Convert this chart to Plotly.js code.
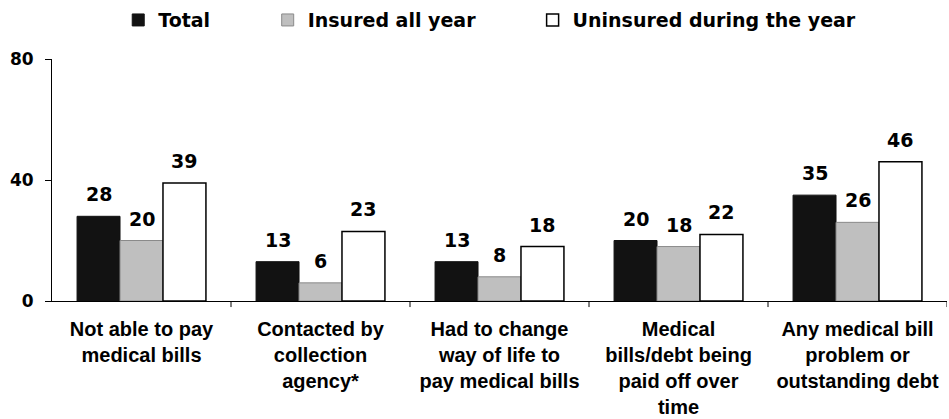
<!DOCTYPE html>
<html>
<head>
<meta charset="utf-8">
<script src="https://cdn.plot.ly/plotly-3.0.1.min.js"></script>
<style>html,body{margin:0;padding:0;background:#fff;}#chart{width:949px;height:419px;}</style>
</head>
<body>
<div id="chart"></div>
<script>
const categories = [
  "Not able to pay<br>medical bills",
  "Contacted by<br>collection<br>agency*",
  "Had to change<br>way of life to<br>pay medical bills",
  "Medical<br>bills/debt being<br>paid off over<br>time",
  "Any medical bill<br>problem or<br>outstanding debt"
];
const seriesNames = ["Total", "Insured all year", "Uninsured during the year"];
const totalValues = [28, 13, 13, 20, 35];
const insuredValues = [20, 6, 8, 18, 26];
const uninsuredValues = [39, 23, 18, 22, 46];
const yTicks = [0, 40, 80];

const allValues = [totalValues, insuredValues, uninsuredValues];
const fills = ["#121212", "#bfbfbf", "#ffffff"];
const lines = ["#121212", "#8a8a8a", "#000000"];
const lineWidths = [1, 1, 1.5];
const legendIds = ["legend", "legend2", "legend3"];

const idx = categories.map((c, i) => i);
const traces = allValues.map((vals, s) => ({
  type: "bar",
  name: seriesNames[s],
  x: idx,
  y: vals,
  marker: {color: fills[s], line: {color: lines[s], width: lineWidths[s]}},
  legend: legendIds[s],
  hoverinfo: "none"
}));

const barW = 0.72 / 3;
const annotations = [];
allValues.forEach((vals, s) => {
  vals.forEach((v, i) => {
    annotations.push({
      x: i + (s - 1) * barW, y: v, xref: "x", yref: "y",
      text: String(v), showarrow: false, yanchor: "bottom", yshift: 9,
      font: {family: "DejaVu Sans", size: 19, color: "#000", weight: "bold"}
    });
  });
});

const legendFont = {family: "DejaVu Sans", size: 19, color: "#000", weight: "bold"};
const mkLegend = (x) => ({x: x, y: 1.156, xanchor: "left", yanchor: "middle", orientation: "h",
  font: legendFont, bgcolor: "rgba(0,0,0,0)", borderwidth: 0});

const layout = {
  width: 949, height: 419,
  margin: {l: 52, r: 2, t: 58, b: 118},
  paper_bgcolor: "#fff", plot_bgcolor: "#fff",
  barmode: "group", bargap: 0.28, bargroupgap: 0,
  showlegend: true,
  legend: mkLegend(0.074),
  legend2: mkLegend(0.241),
  legend3: mkLegend(0.537),
  xaxis: {
    type: "linear", range: [-0.5, 4.5],
    tickvals: idx, ticktext: categories,
    showline: true, linecolor: "#000", linewidth: 1,
    showgrid: false, zeroline: false, ticks: "",
    ticklabelstandoff: 10,
    tickfont: {family: "Liberation Sans", size: 20, color: "#000", weight: "bold"}
  },
  yaxis: {
    range: [0, 80], tickvals: yTicks, ticktext: yTicks.map(String),
    showline: true, linecolor: "#000", linewidth: 1,
    showgrid: false, zeroline: false,
    ticks: "outside", ticklen: 6, tickcolor: "#000",
    ticklabelstandoff: 8,
    tickfont: {family: "DejaVu Sans", size: 17, color: "#000", weight: "bold"}
  },
  annotations: annotations,
  shapes: idx.slice(1).concat([5]).map(i => ({
    type: "line", xref: "x", yref: "paper", x0: i - 0.5, x1: i - 0.5, y0: 0, y1: -0.025,
    line: {color: "#000", width: 1}
  }))
};

Plotly.newPlot("chart", traces, layout, {displayModeBar: false, staticPlot: true});
</script>
</body>
</html>
